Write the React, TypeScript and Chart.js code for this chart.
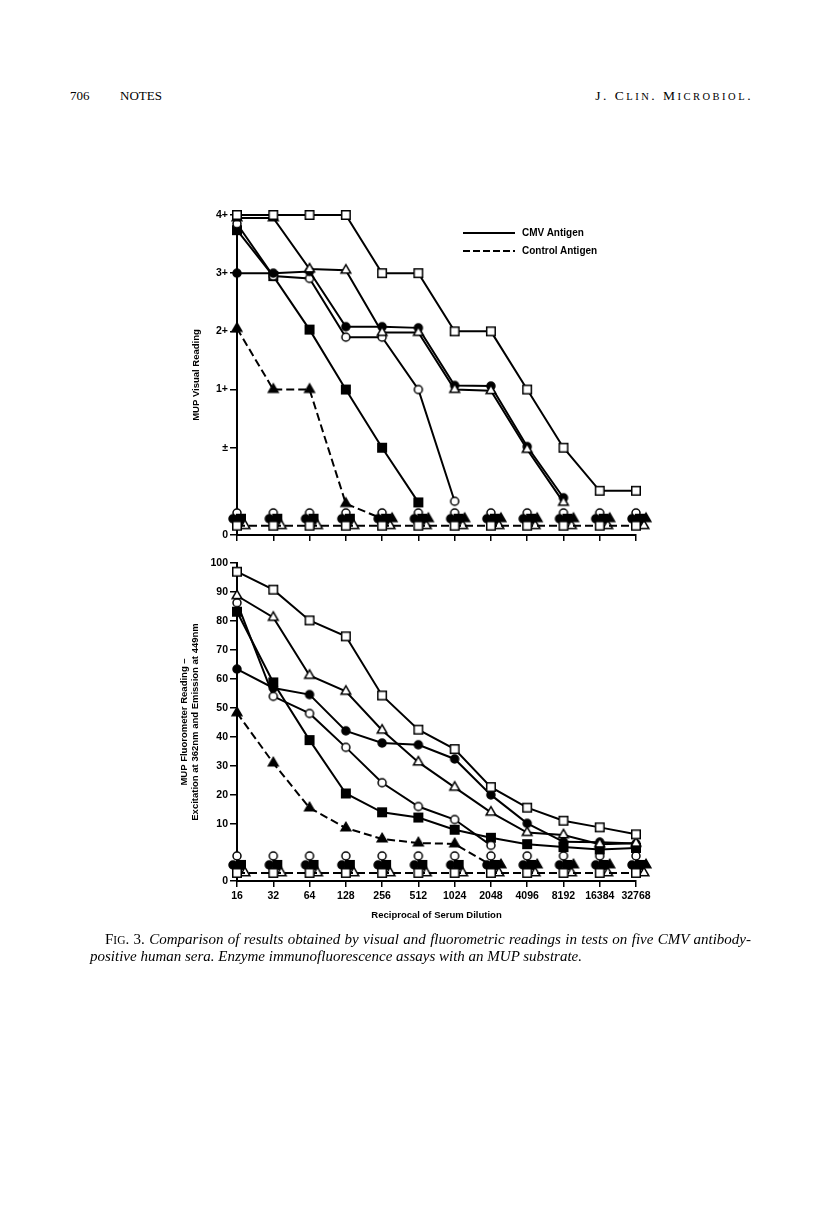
import React, { useEffect, useRef } from 'react';
import { Chart, registerables } from 'chart.js';

Chart.register(...registerables);

// ---------------- data ----------------
const dilutions = ['16', '32', '64', '128', '256', '512', '1024', '2048', '4096', '8192', '16384', '32768'];

// Top panel: MUP visual reading (4 = 4+, 0 = ±, -1.5 = axis "0")
const visualTickValues = [4, 3, 2, 1, 0, -1.5];
const visualTickLabels = ['4+', '3+', '2+', '1+', '±', '0'];

const visOpenSquare = [4, 4, 4, 4, 3, 3, 2, 2, 1, 0, -0.74, -0.74];
const visOpenTriangle = [3.95, 3.95, 3.07, 3.05, 1.98, 1.98, 1.0, 0.98, -0.03, -0.94, null, null];
const visFilledCircle = [3, 3, 3.03, 2.08, 2.08, 2.06, 1.07, 1.06, 0.02, -0.86, null, null];
const visOpenCircle = [3.85, 2.95, 2.91, 1.9, 1.9, 1.0, -0.92, null, null, null, null, null];
const visFilledSquare = [3.74, 2.95, 2.03, 1.0, 0.0, -0.94, null, null, null, null, null, null];
// control antigen
const visCtrlFilledTriangle = [2.05, 1, 1, -0.96, -1.22, -1.22, -1.22, -1.22, -1.22, -1.22, -1.22, -1.22];
const visCtrlOpenCircle = [-1.12, -1.12, -1.12, -1.12, -1.12, -1.12, -1.12, -1.12, -1.12, -1.12, -1.12, -1.12];
const visCtrlFilledCircle = [-1.22, -1.22, -1.22, -1.22, -1.22, -1.22, -1.22, -1.22, -1.22, -1.22, -1.22, -1.22];
const visCtrlFilledSquare = [-1.22, -1.22, -1.22, -1.22, -1.22, -1.22, -1.22, -1.22, -1.22, -1.22, -1.22, -1.22];
const visCtrlOpenSquare = [-1.34, -1.34, -1.34, -1.34, -1.34, -1.34, -1.34, -1.34, -1.34, -1.34, -1.34, -1.34];
const visCtrlOpenTriangle = [-1.34, -1.34, -1.34, -1.34, -1.34, -1.34, -1.34, -1.34, -1.34, -1.34, -1.34, -1.34];

// Bottom panel: MUP fluorometer reading (-9.7 = axis "0")
const fluorTickValues = [100, 90, 80, 70, 60, 50, 40, 30, 20, 10, -9.7];
const fluorTickLabels = ['100', '90', '80', '70', '60', '50', '40', '30', '20', '10', '0'];

const fluOpenSquare = [97, 90.8, 80.2, 74.7, 54.3, 42.5, 35.8, 22.7, 15.6, 11.1, 8.8, 6.4];
const fluOpenTriangle = [88.7, 81.2, 61.2, 55.7, 42.3, 31.3, 22.6, 14.0, 7.0, 6.2, 3.0, 3.3];
const fluFilledCircle = [63.4, 56.9, 54.6, 42.1, 37.9, 37.3, 32.4, 20.0, 10.2, 3.8, 3.7, 3.2];
const fluOpenCircle = [86.3, 54.0, 48.1, 36.4, 24.2, 16.0, 11.5, 2.6, null, null, null, null];
const fluFilledSquare = [83.2, 58.8, 38.9, 20.5, 14.0, 12.2, 8.0, 5.2, 3.0, 2.0, 1.2, 1.7];
// control antigen
const fluCtrlFilledTriangle = [48.3, 31.0, 15.5, 8.6, 4.8, 3.4, 3.1, -4.15, -4.15, -4.15, -4.15, -4.15];
const fluCtrlOpenCircle = [-1.05, -1.05, -1.05, -1.05, -1.05, -1.05, -1.05, -1.05, -1.05, -1.05, -1.05, -1.05];
const fluCtrlFilledCircle = [-4.15, -4.15, -4.15, -4.15, -4.15, -4.15, -4.15, -4.15, -4.15, -4.15, -4.15, -4.15];
const fluCtrlFilledSquare = [-4.15, -4.15, -4.15, -4.15, -4.15, -4.15, -4.15, -4.15, -4.15, -4.15, -4.15, -4.15];
const fluCtrlOpenSquare = [-6.9, -6.9, -6.9, -6.9, -6.9, -6.9, -6.9, -6.9, -6.9, -6.9, -6.9, -6.9];
const fluCtrlOpenTriangle = [-6.9, -6.9, -6.9, -6.9, -6.9, -6.9, -6.9, -6.9, -6.9, -6.9, -6.9, -6.9];

// ---------------- styling ----------------
const BLACK = '#000';
const SANS = '"Liberation Sans", Arial, Helvetica, sans-serif';
const SERIF = '"Liberation Serif", "Times New Roman", serif';
const DASH = [8, 4];

type Shape = 'circle' | 'rect' | 'triangle';

function marker(shape: Shape, filled: boolean, dx = 0): HTMLCanvasElement {
  const half = 8 + Math.abs(dx);
  const c = document.createElement('canvas');
  c.width = half * 2;
  c.height = 16;
  const g = c.getContext('2d')!;
  const x = half + dx;
  const y = 8;
  g.beginPath();
  if (shape === 'circle') {
    g.arc(x, y, 4, 0, Math.PI * 2);
  } else if (shape === 'rect') {
    g.rect(x - 4.25, y - 4.25, 8.5, 8.5);
  } else {
    const r = 5.6;
    g.moveTo(x, y - r);
    g.lineTo(x + r * 0.866, y + r * 0.5);
    g.lineTo(x - r * 0.866, y + r * 0.5);
    g.closePath();
  }
  g.fillStyle = filled ? BLACK : '#fff';
  g.fill();
  g.lineWidth = 1.5;
  g.strokeStyle = BLACK;
  g.stroke();
  return c;
}

function lineSet(data: (number | null)[], style: any, opts: any = {}) {
  return {
    data,
    borderColor: BLACK,
    backgroundColor: BLACK,
    borderWidth: 2,
    pointStyle: style,
    pointRadius: 5,
    pointHoverRadius: 5,
    tension: 0,
    spanGaps: false,
    clip: false,
    fill: false,
    ...opts,
  };
}

function ctrlTriangleSet(data: number[], negValue: number) {
  const firstNeg = data.findIndex((v) => v === negValue);
  const centered = marker('triangle', true, 0);
  const offset = marker('triangle', true, 10);
  return lineSet(data, (ctx: any) => (ctx.dataIndex >= firstNeg ? offset : centered), {
    borderDash: DASH,
    segment: {
      borderColor: (ctx: any) => (ctx.p0DataIndex >= firstNeg ? 'rgba(0,0,0,0)' : undefined),
    },
  });
}

function panelDatasets(
  cmv: { open: any; otri: any; fcirc: any; ocirc: any; fsq: any },
  ctrl: { ocirc: any; fcirc: any; fsq: any; osq: any; otri: any; ftri: number[]; ftriNeg: number }
) {
  return [
    lineSet(ctrl.ocirc, marker('circle', false, 0), { showLine: false }),
    lineSet(ctrl.fcirc, marker('circle', true, -4), { showLine: false }),
    lineSet(ctrl.fsq, marker('rect', true, 4), { showLine: false }),
    lineSet(ctrl.otri, marker('triangle', false, 8), { showLine: false }),
    lineSet(ctrl.osq, marker('rect', false, 0), { borderDash: DASH }),
    ctrlTriangleSet(ctrl.ftri, ctrl.ftriNeg),
    lineSet(cmv.fsq, marker('rect', true)),
    lineSet(cmv.ocirc, marker('circle', false)),
    lineSet(cmv.fcirc, marker('circle', true)),
    lineSet(cmv.otri, marker('triangle', false)),
    lineSet(cmv.open, marker('rect', false)),
  ].reverse();
}

function makeOptions(p: {
  yMin: number;
  yMax: number;
  tickValues: number[];
  tickLabels: string[];
  padTop: number;
  xAxisHeight: number;
  showXLabels: boolean;
  yTitle: string | string[];
  yTitlePad: number;
  xTitle?: string;
}) {
  const tickFont = { family: SANS, size: 10.5, weight: 'bold' as const };
  const titleFont = { family: SANS, size: 9.5, weight: 'bold' as const, lineHeight: 1.25 };
  return {
    responsive: false,
    animation: false as const,
    events: [] as any[],
    layout: { padding: { left: 150, right: 180, top: p.padTop, bottom: 0 } },
    plugins: { legend: { display: false }, tooltip: { enabled: false } },
    scales: {
      x: {
        type: 'category' as const,
        offset: false,
        border: { display: true, color: BLACK, width: 2 },
        grid: { display: true, drawOnChartArea: false, drawTicks: true, tickLength: 6, color: BLACK, lineWidth: 1.5, offset: false },
        ticks: {
          autoSkip: false,
          maxRotation: 0,
          minRotation: 0,
          padding: 3,
          color: BLACK,
          font: tickFont,
          callback: (_v: any, i: number) => (p.showXLabels ? dilutions[i] : ''),
        },
        title: p.xTitle
          ? { display: true, text: p.xTitle, color: BLACK, font: titleFont, padding: { top: 0, bottom: 4 } }
          : { display: false },
        afterFit: (s: any) => {
          s.height = p.xAxisHeight;
        },
      },
      y: {
        type: 'linear' as const,
        min: p.yMin,
        max: p.yMax,
        border: { display: true, color: BLACK, width: 2 },
        grid: { display: true, drawOnChartArea: false, drawTicks: true, tickLength: 7, color: BLACK, lineWidth: 1.5 },
        ticks: {
          padding: 2,
          color: BLACK,
          font: tickFont,
          callback: (v: any) => {
            const i = p.tickValues.indexOf(Number(v));
            return i >= 0 ? p.tickLabels[i] : '';
          },
        },
        afterBuildTicks: (s: any) => {
          s.ticks = p.tickValues.map((v) => ({ value: v }));
        },
        afterFit: (s: any) => {
          s.width = 87;
        },
        title: { display: true, text: p.yTitle, color: BLACK, font: titleFont, padding: { top: p.yTitlePad, bottom: 0 } },
      },
    },
  };
}

function ChartCanvas({ top, height, build }: { top: number; height: number; build: () => any }) {
  const ref = useRef<HTMLCanvasElement>(null);
  useEffect(() => {
    const chart = new Chart(ref.current as HTMLCanvasElement, build());
    return () => chart.destroy();
  }, []);
  return (
    <div style={{ position: 'absolute', left: 0, top, width: 816, height }}>
      <canvas ref={ref} width={816} height={height} style={{ display: 'block', width: 816, height }} />
    </div>
  );
}

const buildTop = () => ({
  type: 'line',
  data: {
    labels: dilutions,
    datasets: panelDatasets(
      { open: visOpenSquare, otri: visOpenTriangle, fcirc: visFilledCircle, ocirc: visOpenCircle, fsq: visFilledSquare },
      {
        ocirc: visCtrlOpenCircle,
        fcirc: visCtrlFilledCircle,
        fsq: visCtrlFilledSquare,
        osq: visCtrlOpenSquare,
        otri: visCtrlOpenTriangle,
        ftri: visCtrlFilledTriangle,
        ftriNeg: visCtrlFilledCircle[0],
      }
    ),
  },
  options: makeOptions({
    yMin: -1.5,
    yMax: 4,
    tickValues: visualTickValues,
    tickLabels: visualTickLabels,
    padTop: 30,
    xAxisHeight: 10,
    showXLabels: false,
    yTitle: 'MUP Visual Reading',
    yTitlePad: 40,
  }),
});

const buildBottom = () => ({
  type: 'line',
  data: {
    labels: dilutions,
    datasets: panelDatasets(
      { open: fluOpenSquare, otri: fluOpenTriangle, fcirc: fluFilledCircle, ocirc: fluOpenCircle, fsq: fluFilledSquare },
      {
        ocirc: fluCtrlOpenCircle,
        fcirc: fluCtrlFilledCircle,
        fsq: fluCtrlFilledSquare,
        osq: fluCtrlOpenSquare,
        otri: fluCtrlOpenTriangle,
        ftri: fluCtrlFilledTriangle,
        ftriNeg: fluCtrlFilledCircle[0],
      }
    ),
  },
  options: makeOptions({
    yMin: -9.7,
    yMax: 100,
    tickValues: fluorTickValues,
    tickLabels: fluorTickLabels,
    padTop: 23,
    xAxisHeight: 44,
    showXLabels: true,
    yTitle: ['MUP Fluorometer Reading –', 'Excitation at 362nm and Emission at 449nm'],
    yTitlePad: 28,
    xTitle: 'Reciprocal of Serum Dilution',
  }),
});

function SmallCaps({ text, big, small }: { text: string; big: number; small: number }) {
  // upper-case letters at full size, lower-case letters as reduced capitals
  const parts: React.ReactNode[] = [];
  let buf = '';
  let bufSmall = false;
  const flush = (k: number) => {
    if (!buf) return;
    parts.push(
      <span key={k} style={{ fontSize: bufSmall ? small : big }}>
        {bufSmall ? buf.toUpperCase() : buf}
      </span>
    );
    buf = '';
  };
  text.split('').forEach((ch, i) => {
    const isSmall = ch >= 'a' && ch <= 'z';
    if (buf && isSmall !== bufSmall) flush(i);
    bufSmall = isSmall;
    buf += ch;
  });
  flush(text.length);
  return <>{parts}</>;
}

export default function App() {
  const legendText: React.CSSProperties = {
    position: 'absolute',
    left: 522,
    fontFamily: SANS,
    fontWeight: 'bold',
    fontSize: 10,
    lineHeight: '12px',
    color: BLACK,
    whiteSpace: 'nowrap',
  };
  const serif: React.CSSProperties = {
    position: 'absolute',
    fontFamily: SERIF,
    fontSize: 13,
    lineHeight: '16px',
    color: BLACK,
    whiteSpace: 'nowrap',
  };
  return (
    <div style={{ position: 'absolute', left: 0, top: 0, width: 816, height: 1205, background: '#fff', overflow: 'hidden' }}>
      <div style={{ ...serif, left: 70, top: 88 }}>706</div>
      <div style={{ ...serif, left: 120, top: 88 }}>NOTES</div>
      <div style={{ ...serif, right: 63, top: 88, letterSpacing: 2.5 }}>
        <SmallCaps text="J. Clin. Microbiol." big={13.5} small={10.5} />
      </div>

      <ChartCanvas top={185} height={360} build={buildTop} />
      <ChartCanvas top={540} height={385} build={buildBottom} />

      <svg style={{ position: 'absolute', left: 460, top: 225 }} width={60} height={32}>
        <line x1={3} y1={8} x2={55} y2={8} stroke={BLACK} strokeWidth={2} />
        <line x1={3} y1={26} x2={55} y2={26} stroke={BLACK} strokeWidth={2} strokeDasharray="7 3" />
      </svg>
      <div style={{ ...legendText, top: 227 }}>CMV Antigen</div>
      <div style={{ ...legendText, top: 245 }}>Control Antigen</div>

      <div
        style={{
          ...serif,
          fontSize: 15,
          lineHeight: '17px',
          left: 90,
          top: 931,
          width: 661,
          whiteSpace: 'normal',
          textIndent: 15,
          textAlign: 'justify',
          textAlignLast: 'justify',
          fontStyle: 'italic',
        }}
      >
        <span style={{ fontStyle: 'normal' }}>
          <SmallCaps text="Fig. 3." big={15} small={11.5} />
        </span>{' '}
        Comparison of results obtained by visual and fluorometric readings in tests on five CMV antibody-
      </div>
      <div style={{ ...serif, fontSize: 15, lineHeight: '17px', left: 90, top: 948, fontStyle: 'italic' }}>
        positive human sera. Enzyme immunofluorescence assays with an MUP substrate.
      </div>
    </div>
  );
}
